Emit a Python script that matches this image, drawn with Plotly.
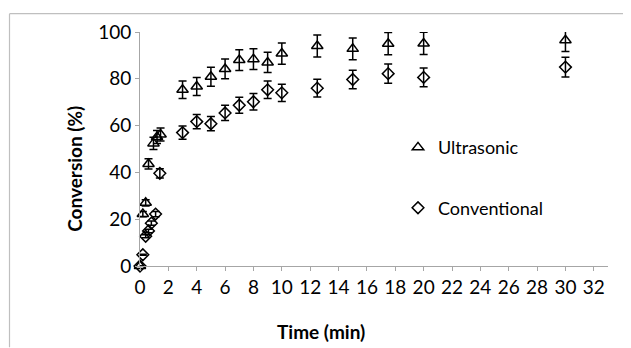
import plotly.graph_objects as go

# Data
time_ultrasonic = [0, 0.2, 0.4, 0.6, 0.95, 1.2, 1.45, 3, 4, 5, 6, 7, 8, 9, 10, 12.5, 15, 17.5, 20, 30]
conv_ultrasonic = [0, 22.2, 27.0, 43.6, 52.4, 55.1, 56.2, 75.3, 76.7, 80.9, 84.2, 88.0, 88.4, 87.0, 90.8, 94.0, 92.8, 95.0, 95.1, 96.5]

time_conventional = [0, 0.2, 0.4, 0.6, 0.8, 1.1, 1.4, 3, 4, 5, 6, 7, 8, 9, 10, 12.5, 15, 17.5, 20, 30]
conv_conventional = [0, 4.8, 12.7, 15.0, 18.3, 22.2, 39.6, 57.0, 61.7, 60.8, 65.4, 68.7, 70.2, 75.3, 74.0, 76.0, 79.7, 82.2, 80.6, 85.0]

error_percent = 5

x_tick_vals = list(range(0, 33, 2))
y_tick_vals = [0, 20, 40, 60, 80, 100]

FONT = "Lato"
OFF = 8  # page body margin
W, H = 631 - OFF, 348 - OFF
# target pixel positions in the window
PLOT_L, PLOT_R, PLOT_T, PLOT_B = 140, 608, 30, 266
ML, MR, MT, MB = PLOT_L - OFF, (W + OFF) - PLOT_R, PLOT_T - OFF, (H + OFF) - PLOT_B
PW, PH = W - ML - MR, H - MT - MB


def px_to_paper_x(px):
    return (px - PLOT_L) / PW


def px_to_paper_y(py):
    return (PLOT_B - py) / PH


fig = go.Figure()

fig.add_trace(go.Scatter(
    x=time_ultrasonic, y=conv_ultrasonic, mode="markers", name="Ultrasonic",
    legendgroup="u",
    marker=dict(symbol="triangle-up-open", size=10, color="black", line=dict(width=1.5, color="black")),
    error_y=dict(type="percent", value=error_percent, color="black", thickness=1.5, width=4),
    cliponaxis=False,
))
fig.add_trace(go.Scatter(
    x=time_conventional, y=conv_conventional, mode="markers", name="Conventional",
    legendgroup="c",
    marker=dict(symbol="diamond-open", size=9, color="black", line=dict(width=1.5, color="black")),
    error_y=dict(type="percent", value=error_percent, color="black", thickness=1.5, width=4),
    cliponaxis=False,
))

axis_color = "#a6a6a6"
frame_color = "#bfbfbf"
fig.update_layout(
    width=W, height=H,
    margin=dict(l=ML, r=MR, t=MT, b=MB),
    paper_bgcolor="white", plot_bgcolor="white",
    font=dict(family=FONT, size=19, color="black"),
    xaxis=dict(range=[0, 33], tickvals=x_tick_vals, showline=True, linecolor=axis_color, linewidth=1,
               ticks="outside", ticklen=4, tickcolor=axis_color, showgrid=False, zeroline=False,
               tickfont=dict(family=FONT, size=19, color="black")),
    yaxis=dict(range=[0, 100], tickvals=y_tick_vals, showline=True, linecolor=axis_color, linewidth=1,
               ticks="outside", ticklen=4, tickcolor=axis_color, showgrid=False, zeroline=False,
               tickfont=dict(family=FONT, size=19, color="black")),
    showlegend=True,
    legend=dict(x=px_to_paper_x(398), y=px_to_paper_y(128), xanchor="left", yanchor="top",
                tracegroupgap=34, font=dict(family=FONT, size=18, color="black"),
                bgcolor="rgba(0,0,0,0)"),
    annotations=[
        dict(text="<b>Time (min)</b>", xref="paper", yref="paper",
             x=px_to_paper_x(321), y=px_to_paper_y(332), xanchor="center", yanchor="middle",
             showarrow=False, font=dict(family=FONT, size=19, color="black")),
        dict(text="<b>Conversion (%)</b>", xref="paper", yref="paper",
             x=px_to_paper_x(75), y=px_to_paper_y(168), xanchor="center", yanchor="middle",
             showarrow=False, textangle=-90, font=dict(family=FONT, size=19, color="black")),
    ],
    shapes=[
        dict(type="line", xref="paper", yref="paper",
             x0=px_to_paper_x(9.5), y0=px_to_paper_y(11.5), x1=px_to_paper_x(9.5), y1=px_to_paper_y(348),
             line=dict(color=frame_color, width=1.2), layer="below"),
        dict(type="line", xref="paper", yref="paper",
             x0=px_to_paper_x(9.5), y0=px_to_paper_y(11.5), x1=px_to_paper_x(631), y1=px_to_paper_y(11.5),
             line=dict(color=frame_color, width=1.2), layer="below"),
    ],
)

fig.write_html("out.html")
